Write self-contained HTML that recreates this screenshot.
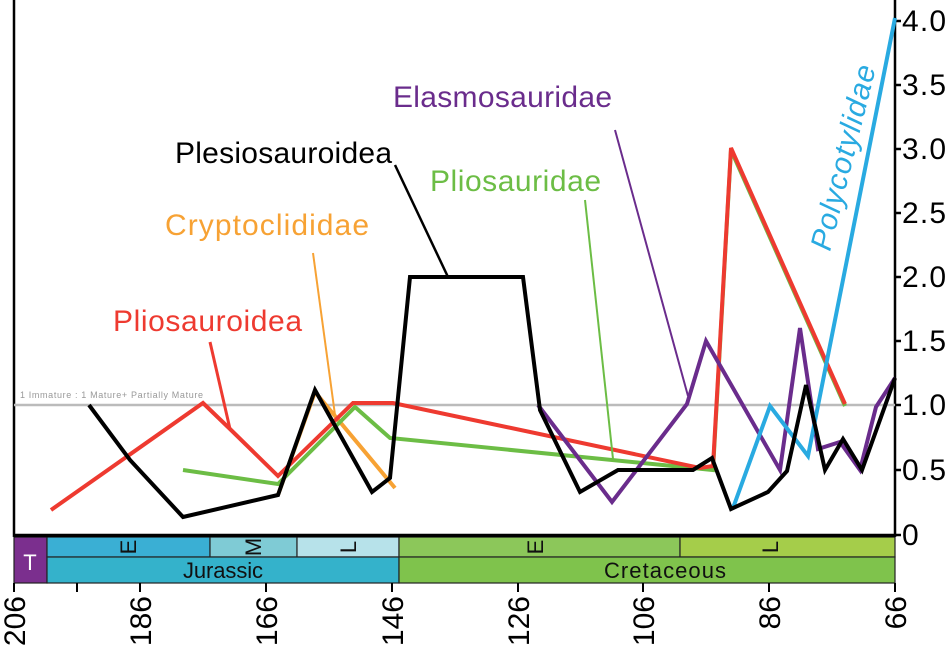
<!DOCTYPE html>
<html><head><style>
body{margin:0;background:#fff}
svg{display:block;font-family:"Liberation Sans",sans-serif}
</style></head><body>
<svg width="951" height="652" viewBox="0 0 951 652">
<rect width="951" height="652" fill="#fff"/>
<line x1="14" y1="0" x2="14" y2="537" stroke="#000" stroke-width="2.5"/>
<line x1="895" y1="0" x2="895" y2="537" stroke="#000" stroke-width="2.5"/>
<line x1="14" y1="535" x2="895" y2="535" stroke="#000" stroke-width="2.5"/>
<g stroke="#000" stroke-width="2.5">
<line x1="895" y1="21" x2="901" y2="21"/><line x1="895" y1="85" x2="901" y2="85"/><line x1="895" y1="149" x2="901" y2="149"/><line x1="895" y1="213" x2="901" y2="213"/><line x1="895" y1="277" x2="901" y2="277"/><line x1="895" y1="341" x2="901" y2="341"/><line x1="895" y1="405" x2="901" y2="405"/><line x1="895" y1="470" x2="901" y2="470"/><line x1="895" y1="535" x2="901" y2="535"/>
</g>
<g font-size="30" fill="#000">
<text x="902" y="31" textLength="44">4.0</text><text x="902" y="95" textLength="44">3.5</text><text x="902" y="159" textLength="44">3.0</text><text x="902" y="223" textLength="44">2.5</text><text x="902" y="287" textLength="44">2.0</text><text x="902" y="351" textLength="44">1.5</text><text x="902" y="415" textLength="44">1.0</text><text x="902" y="480" textLength="44">0.5</text><text x="902" y="545">0</text>
</g>
<line x1="14" y1="405" x2="895" y2="405" stroke="#bbb" stroke-width="2.5"/>
<text x="20" y="398" font-size="9" fill="#999" textLength="183">1 Immature : 1 Mature+ Partially Mature</text>
<g fill="none" stroke-linejoin="miter">
<polyline points="278,495 315,392 395,488" stroke="#f7a234" stroke-width="4"/>
<polyline points="183,470 278,484 355,407 390,438 713,470 731,150 845,406" stroke="#6cbd45" stroke-width="4"/>
<polyline points="51,510 203,403 230,429 278,476 353,403 393,403 700,468 713,466 731,148 845,404" stroke="#ee3a30" stroke-width="4"/>
<polyline points="538,405 612,502 687,404 706,341 780,470 800,328 818,449 840,442 860,470 876,407 895,378" stroke="#6a2c8c" stroke-width="4"/>
<polyline points="733,508 770,406 808,456 895,18" stroke="#29aae1" stroke-width="4"/>
<polyline points="89,405 130,460 183,517 278,495 315,390 372,492 390,478 410,277 523,277 540,410 580,492 618,470 693,470 712,458 731,509 768,492 787,471 806,385 825,470 843,439 862,470 895,378" stroke="#000" stroke-width="4"/>
<line x1="210" y1="342" x2="230" y2="429" stroke="#ee3a30" stroke-width="3"/>
<line x1="313" y1="253" x2="335" y2="415" stroke="#f7a234" stroke-width="2"/>
<line x1="395" y1="165" x2="448" y2="277" stroke="#000" stroke-width="2.5"/>
<line x1="585" y1="200" x2="613" y2="459" stroke="#6cbd45" stroke-width="2"/>
<line x1="615" y1="130" x2="688" y2="396" stroke="#6a2c8c" stroke-width="2"/>
</g>
<g font-size="30">
<text x="393" y="107" fill="#6a2c8c" textLength="219">Elasmosauridae</text>
<text x="175" y="163" fill="#000" textLength="217">Plesiosauroidea</text>
<text x="430" y="191" fill="#6cbd45" textLength="171">Pliosauridae</text>
<text x="165" y="235" fill="#f7a234" textLength="204">Cryptoclididae</text>
<text x="113" y="331" fill="#ee3a30" textLength="189">Pliosauroidea</text>
<text transform="translate(830,252) rotate(-76)" fill="#29aae1" font-style="italic" textLength="190">Polycotylidae</text>
</g>
<g stroke="#222" stroke-width="1.2">
<rect x="14" y="537" width="33" height="46" fill="#7b2f8e"/>
<rect x="47" y="537" width="163" height="20" fill="#3aafd4"/>
<rect x="210" y="537" width="87" height="20" fill="#7fcbd5"/>
<rect x="297" y="537" width="102" height="20" fill="#b7e2ea"/>
<rect x="47" y="557" width="352" height="26" fill="#34b2cb"/>
<rect x="399" y="537" width="281" height="20" fill="#8cc75a"/>
<rect x="680" y="537" width="215" height="20" fill="#a5cd4a"/>
<rect x="399" y="557" width="496" height="26" fill="#7fc34c"/>
</g>
<line x1="14" y1="536" x2="895" y2="536" stroke="#000" stroke-width="2.5"/>
<g font-size="22" fill="#111" text-anchor="middle">
<text x="30" y="570" fill="#fff">T</text>
<text x="223" y="578" textLength="80">Jurassic</text>
<text x="665" y="578" textLength="122">Cretaceous</text>
<text transform="translate(128,547) rotate(-90)" y="8">E</text>
<text transform="translate(253,547) rotate(-90)" y="8">M</text>
<text transform="translate(348,547) rotate(-90)" y="8">L</text>
<text transform="translate(535,547) rotate(-90)" y="8">E</text>
<text transform="translate(770,547) rotate(-90)" y="8">L</text>
</g>
<g stroke="#000" stroke-width="2">
<line x1="14" y1="583" x2="14" y2="592"/><line x1="77" y1="583" x2="77" y2="592"/><line x1="140" y1="583" x2="140" y2="592"/><line x1="266" y1="583" x2="266" y2="592"/><line x1="392" y1="583" x2="392" y2="592"/><line x1="518" y1="583" x2="518" y2="592"/><line x1="643" y1="583" x2="643" y2="592"/><line x1="769" y1="583" x2="769" y2="592"/><line x1="895" y1="583" x2="895" y2="592"/>
</g>
<g font-size="30" fill="#000" text-anchor="end">
<text transform="translate(25,596) rotate(-90)">206</text>
<text transform="translate(151,596) rotate(-90)">186</text>
<text transform="translate(277,596) rotate(-90)">166</text>
<text transform="translate(403,596) rotate(-90)">146</text>
<text transform="translate(529,596) rotate(-90)">126</text>
<text transform="translate(654,596) rotate(-90)">106</text>
<text transform="translate(780,596) rotate(-90)">86</text>
<text transform="translate(906,596) rotate(-90)">66</text>
</g>
</svg>
</body></html>
